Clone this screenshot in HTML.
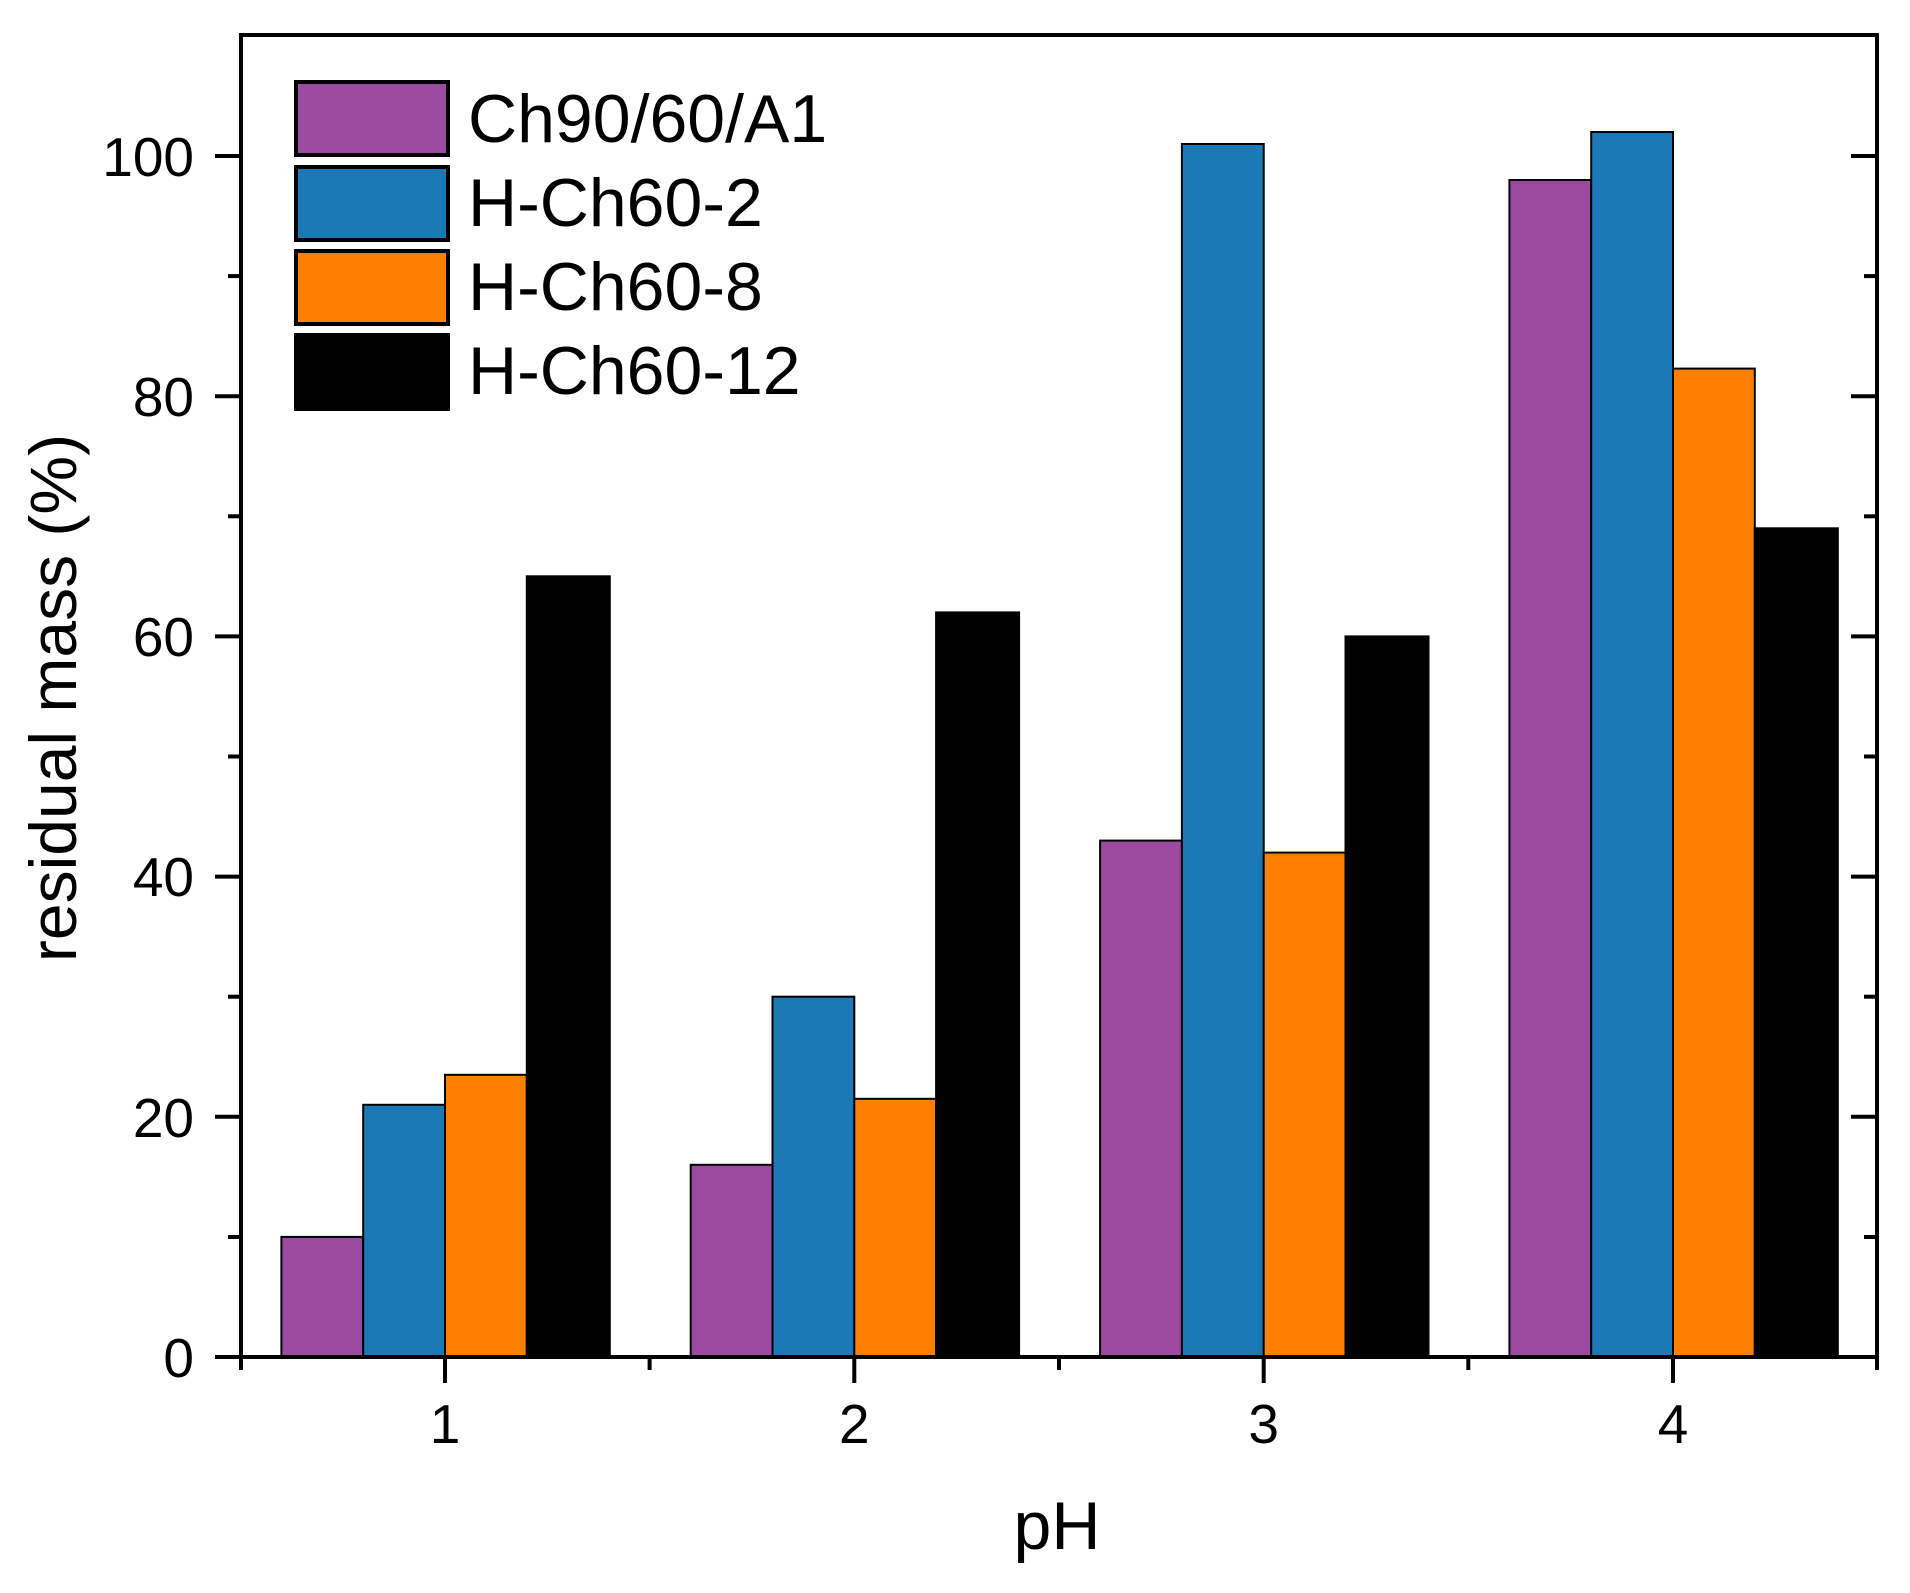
<!DOCTYPE html>
<html><head><meta charset="utf-8"><style>html,body{margin:0;padding:0;background:#fff}</style></head>
<body>
<svg width="1910" height="1588" xmlns="http://www.w3.org/2000/svg" font-family="Liberation Sans, Arial, sans-serif">
<rect width="1910" height="1588" fill="#fff"/>
<g stroke="#000" stroke-width="2">
<rect x="281.4" y="1236.9" width="81.8" height="120.1" fill="#9B4AA0"/>
<rect x="363.2" y="1104.8" width="81.8" height="252.2" fill="#1B7AB5"/>
<rect x="445" y="1074.8" width="81.8" height="282.2" fill="#FF7F00"/>
<rect x="526.8" y="576.3" width="83" height="780.7" fill="#000"/>
<rect x="690.7" y="1164.8" width="81.8" height="192.2" fill="#9B4AA0"/>
<rect x="772.5" y="996.7" width="81.8" height="360.3" fill="#1B7AB5"/>
<rect x="854.3" y="1098.8" width="81.8" height="258.2" fill="#FF7F00"/>
<rect x="936.1" y="612.4" width="83" height="744.6" fill="#000"/>
<rect x="1100.1" y="840.6" width="81.8" height="516.4" fill="#9B4AA0"/>
<rect x="1181.9" y="144" width="81.8" height="1213" fill="#1B7AB5"/>
<rect x="1263.7" y="852.6" width="81.8" height="504.4" fill="#FF7F00"/>
<rect x="1345.5" y="636.4" width="83" height="720.6" fill="#000"/>
<rect x="1509.4" y="180" width="81.8" height="1177" fill="#9B4AA0"/>
<rect x="1591.2" y="132" width="81.8" height="1225" fill="#1B7AB5"/>
<rect x="1673" y="368.6" width="81.8" height="988.4" fill="#FF7F00"/>
<rect x="1754.8" y="528.3" width="83" height="828.7" fill="#000"/>
</g>
<rect x="241" y="35" width="1636" height="1322" fill="none" stroke="#000" stroke-width="4"/>
<g stroke="#000" stroke-width="4">
<line x1="215" y1="1357" x2="241" y2="1357"/><line x1="215" y1="1116.8" x2="241" y2="1116.8"/>
<line x1="215" y1="876.6" x2="241" y2="876.6"/><line x1="215" y1="636.4" x2="241" y2="636.4"/>
<line x1="215" y1="396.2" x2="241" y2="396.2"/><line x1="215" y1="156" x2="241" y2="156"/>
<line x1="228" y1="1237" x2="241" y2="1237"/><line x1="228" y1="996.7" x2="241" y2="996.7"/>
<line x1="228" y1="756.5" x2="241" y2="756.5"/><line x1="228" y1="516.3" x2="241" y2="516.3"/>
<line x1="228" y1="276.1" x2="241" y2="276.1"/>
<line x1="1851" y1="1116.8" x2="1877" y2="1116.8"/><line x1="1851" y1="876.6" x2="1877" y2="876.6"/>
<line x1="1851" y1="636.4" x2="1877" y2="636.4"/><line x1="1851" y1="396.2" x2="1877" y2="396.2"/>
<line x1="1851" y1="156" x2="1877" y2="156"/>
<line x1="1864" y1="1237" x2="1877" y2="1237"/><line x1="1864" y1="996.7" x2="1877" y2="996.7"/>
<line x1="1864" y1="756.5" x2="1877" y2="756.5"/><line x1="1864" y1="516.3" x2="1877" y2="516.3"/>
<line x1="1864" y1="276.1" x2="1877" y2="276.1"/>
<line x1="445" y1="1357" x2="445" y2="1383"/><line x1="854.3" y1="1357" x2="854.3" y2="1383"/>
<line x1="1263.7" y1="1357" x2="1263.7" y2="1383"/><line x1="1673" y1="1357" x2="1673" y2="1383"/>
<line x1="241" y1="1357" x2="241" y2="1370"/><line x1="649.6" y1="1357" x2="649.6" y2="1370"/>
<line x1="1059" y1="1357" x2="1059" y2="1370"/><line x1="1468.3" y1="1357" x2="1468.3" y2="1370"/>
<line x1="1877" y1="1357" x2="1877" y2="1370"/>
</g>
<g font-size="55" fill="#000" text-anchor="end">
<text x="194" y="1377">0</text><text x="194" y="1137">20</text><text x="194" y="896">40</text>
<text x="194" y="656">60</text><text x="194" y="416">80</text><text x="194" y="176">100</text>
</g>
<g font-size="55" fill="#000" text-anchor="middle">
<text x="445" y="1443">1</text><text x="854.3" y="1443">2</text><text x="1263.7" y="1443">3</text><text x="1673" y="1443">4</text>
</g>
<text x="1057" y="1549" font-size="68" text-anchor="middle">pH</text>
<text transform="translate(76,698) rotate(-90)" font-size="66" text-anchor="middle">residual mass (%)</text>
<g stroke="#000" stroke-width="4">
<rect x="296" y="82" width="152" height="73" fill="#9B4AA0"/>
<rect x="296" y="167" width="152" height="73" fill="#1B7AB5"/>
<rect x="296" y="251" width="152" height="73" fill="#FF7F00"/>
<rect x="296" y="335" width="152" height="74" fill="#000"/>
</g>
<g font-size="68" fill="#000">
<text x="468" y="142">Ch90/60/A1</text>
<text x="468" y="226">H-Ch60-2</text>
<text x="468" y="310">H-Ch60-8</text>
<text x="468" y="394">H-Ch60-12</text>
</g>
</svg>
</body></html>
